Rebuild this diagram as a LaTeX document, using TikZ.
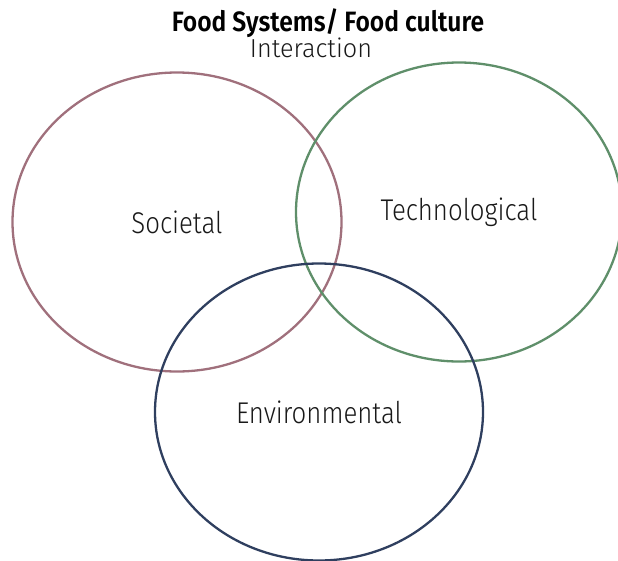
\documentclass[tikz,border=0pt]{standalone}
\usepackage{fontspec}
\setmainfont{Fira Sans Light}[FakeStretch=0.86]
\newfontfamily\headfont{Fira Sans SemiBold}[FakeStretch=0.88]
\newfontfamily\subfont{Fira Sans Light}[FakeStretch=0.97]
\usetikzlibrary{shapes.geometric}

\definecolor{mauve}{HTML}{A0707C}
\definecolor{sage}{HTML}{5F8F6A}
\definecolor{navy}{HTML}{2F3F5F}

\begin{document}
\begin{tikzpicture}[x=1pt,y=-1pt]

      \useasboundingbox (0,0) rectangle (618,560);

      % title
      \node (title) [anchor=base, font=\headfont\fontsize{28}{30}\selectfont] at (328,31) {Food Systems/ Food culture};
      \node (sub) [anchor=base, text=black!90, font=\subfont\fontsize{26}{30}\selectfont] at (311,57) {Interaction};

      \begin{scope}[every node/.style={ellipse, draw, line width=2.3pt, inner sep=0pt,
          text=black!90, font=\fontsize{30}{34}\selectfont}]
        \node (soc) [draw=mauve, minimum width=329pt, minimum height=299pt] at (177,222) {Societal};
        \node (tech) [draw=sage, minimum width=326pt, minimum height=299pt] at (459,212) {Technological};
        \node (env) [draw=navy, minimum width=328pt, minimum height=297pt] at (319,412) {Environmental};
      \end{scope}

    \end{tikzpicture}
\end{document}
